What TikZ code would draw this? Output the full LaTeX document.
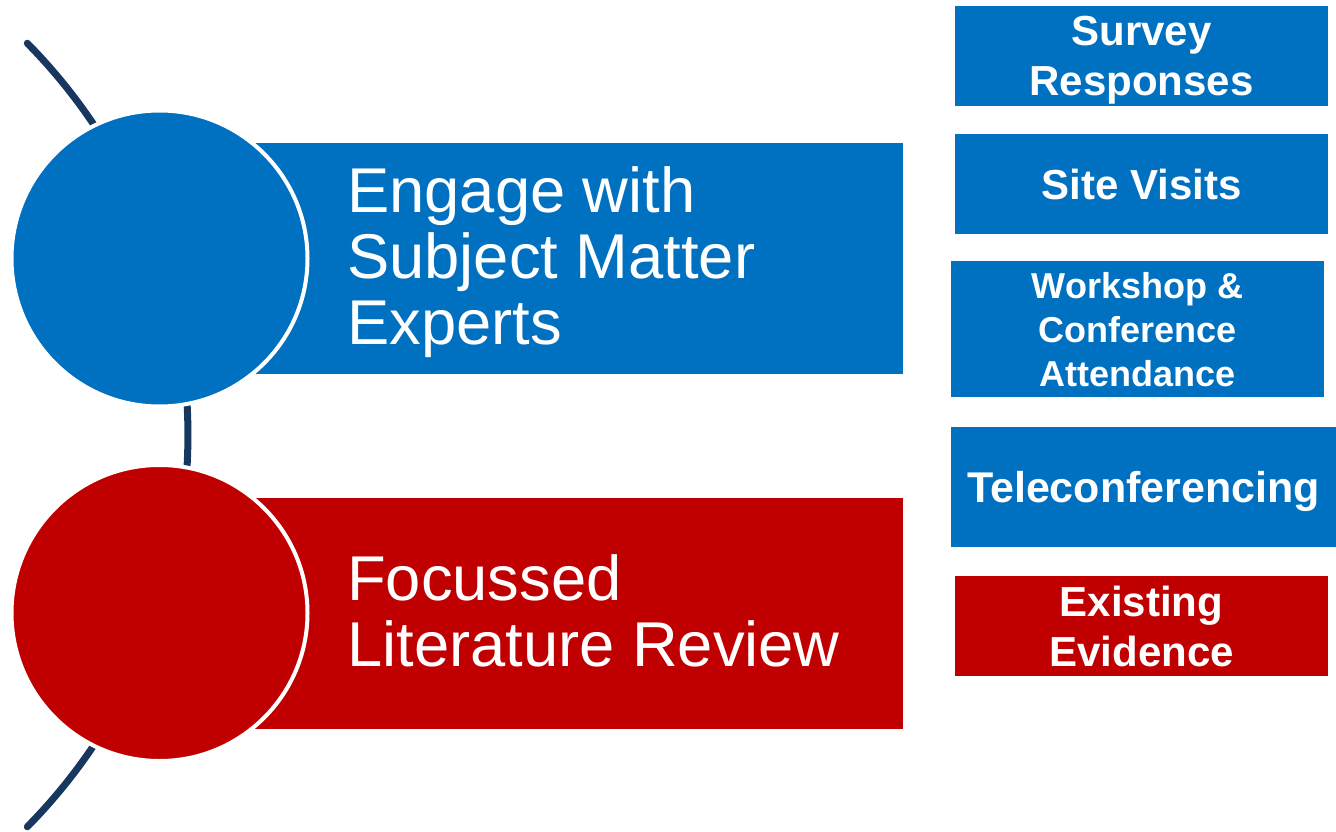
\documentclass[tikz,border=0pt]{standalone}
\usepackage{fontspec}
\setmainfont{Liberation Sans}
\usepackage{tikz}
\usetikzlibrary{shapes}
\definecolor{sheetblue}{RGB}{0,112,192}
\definecolor{sheetred}{RGB}{192,0,0}
\definecolor{navy}{RGB}{23,55,94}
\tikzset{
	band/.style     = {rectangle, minimum width = 744, minimum height = 231,
		inner sep = 0},
	disc/.style     = {circle, draw = white, line width = 4, minimum size = 296,
		inner sep = 0},
	title/.style    = {anchor = west, align = left, inner sep = 0, text = white,
		font = \fontsize{63.3}{66}\selectfont},
	tile/.style     = {rectangle, fill = sheetblue, text = white, align = center,
		inner sep = 0, text depth = 0pt, minimum width = 373, minimum height = 100,
		font = \bfseries\fontsize{42}{50}\selectfont},
	hub/.style      = {coordinate} % arc centre
}

\begin{document}
\begin{tikzpicture}[x=1pt, y=-1pt]
	\useasboundingbox (0,0) rectangle (1336,832);
	
	% the spine behind both discs
	\draw node at (-370,435)[hub] (h) {};
	\draw[navy, line width = 7, line cap = round]
	(h) ++(-44.6:558) arc[start angle = -44.6, end angle = 44.6, radius = 558];
	
	\draw
	node at (531,258.5)[band, fill = sheetblue] (b1) {}
	node at (531,613.5)[band, fill = sheetred] (b2) {}
	node at (159.5,258.5)[disc, fill = sheetblue] (c1) {}
	node at (159.5,613)[disc, fill = sheetred] (c2) {}
	node at (347,262)[title] (t1) {Engage with\\Subject Matter\\Experts}
	node at (347,611)[title] (t2) {Focussed\\Literature Review}
	;
	
	\draw
	node at (1141.5,56)[tile] (s1) {Survey\\Responses}
	node at (1141.5,184)[tile] (s2) {Site Visits}
	node at (1137.5,329)[tile, minimum height = 136,
		font = \bfseries\fontsize{36}{44}\selectfont] (s3) {Workshop \&\\Conference\\Attendance}
	node at (1143.5,487)[tile, minimum width = 385, minimum height = 120,
		font = \bfseries\fontsize{43}{50}\selectfont] (s4) {Teleconferencing}
	node at (1141.5,626)[tile, fill = sheetred] (s5) {Existing\\Evidence}
	;
\end{tikzpicture}
\end{document}
